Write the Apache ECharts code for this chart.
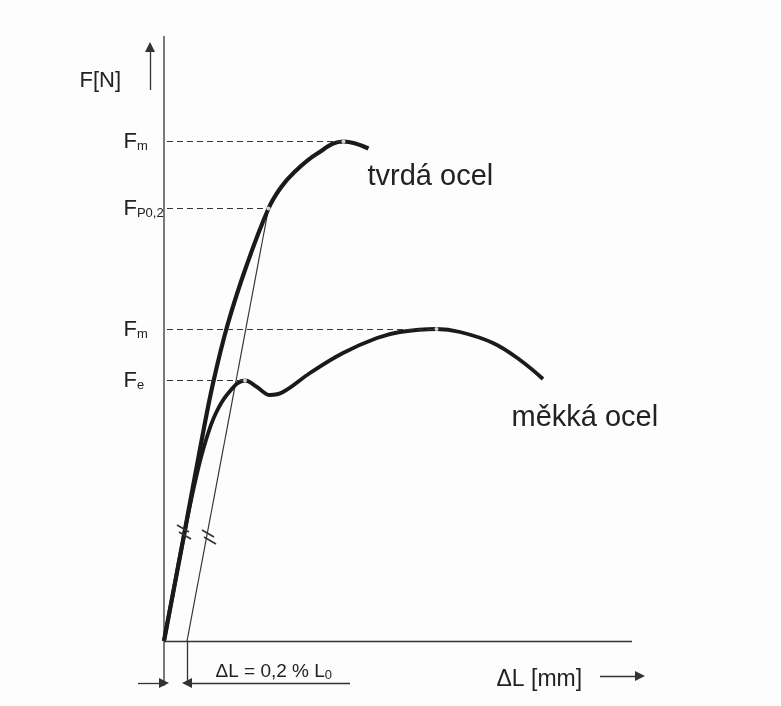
<!DOCTYPE html>
<html>
<head>
<meta charset="utf-8">
<script src="https://cdn.jsdelivr.net/npm/echarts@6/dist/echarts.min.js"></script>
<style>
  html, body { margin: 0; padding: 0; background: #fdfdfd; }
  #chart { width: 781px; height: 706px; }
</style>
</head>
<body>
<div id="chart"></div>
<script>
// tahový diagram, ΔL a F v libovolných jednotkách
const hardSteel = [[0, 0], [3.8, 20.1], [7.54, 40.2], [9.86, 51.8], [12.76, 63.4], [16.48, 75],
  [20.9, 86.5], [23.3, 90.6], [26, 93.7], [30.5, 97.4], [35.9, 99.9], [40.9, 98.5]]
const softSteel = [[0, 0], [4.5, 23.7], [6.6, 33.5], [8.4, 40.2], [10.3, 45.4], [12.8, 49.5],
  [16.2, 52.1], [18.6, 50.8], [21.2, 49.2], [23.8, 49.8], [29.2, 53.6], [35.8, 57.6],
  [42.6, 60.6], [47.2, 61.8], [54.5, 62.4], [59.2, 61.8], [65.8, 59.6], [71.2, 56.2], [75.8, 52.4]]
const offsetLine = [[4.6, 0], [20.9, 86.5]]
// charakteristické body: Fm (tvrdá), Fp0,2, Fm (měkká), Fe
const levelMain = ['F', 'F', 'F', 'F']
const levelSub = ['m', 'P0,2', 'm', 'e']
const levelValues = [99.9, 86.5, 62.4, 52.1]
const levelX = [35.9, 20.9, 54.5, 16.2]
const curveNames = ['tvrdá ocel', 'měkká ocel']
const offsetText = ['ΔL = 0,2 % L', '0']
const axisNames = ['F[N]', 'ΔL [mm]']
const yTop = 121
const xEnd = 93.6
const dimY = -8.4

const chartDom = document.getElementById('chart')
const myChart = echarts.init(chartDom)
const font = 'Liberation Sans, Arial, sans-serif'
const ink = '#1a1a1a'
const thin = '#333333'

const dashed = levelValues.map((v, i) => [{ coord: [0.6, v] }, { coord: [levelX[i], v] }])

const levelLabels = levelValues.map((v, i) => ({
  coord: [0, v],
  label: { formatter: '{b|' + levelMain[i] + '}{s|' + levelSub[i] + '}' }
}))

const option = {
  backgroundColor: '#fdfdfd',
  animation: false,
  grid: { left: 134, right: 137, top: 36, bottom: 20 },
  xAxis: { type: 'value', min: -6, max: 96, show: false },
  yAxis: { type: 'value', min: -9, max: 121, show: false },
  series: [
    {
      // osy
      type: 'line',
      data: [[0, dimY - 0.6], [0, yTop]],
      symbol: 'none',
      silent: true,
      lineStyle: { color: thin, width: 1.3 },
      markLine: {
        silent: true,
        symbol: 'none',
        label: { show: false },
        lineStyle: { color: thin, width: 1.3, type: 'solid' },
        data: [
          [{ coord: [0, 0] }, { coord: [xEnd, 0] }],
          [{ coord: [4.6, 0] }, { coord: [4.6, dimY] }]
        ]
      }
    },
    {
      // šrafy
      type: 'line',
      data: [],
      markLine: {
        silent: true,
        symbol: 'none',
        label: { show: false },
        lineStyle: { color: thin, width: 1.6, type: 'solid' },
        data: [
          [{ coord: [2.6, 23.2] }, { coord: [5.0, 21.8] }],
          [{ coord: [3.0, 21.8] }, { coord: [5.4, 20.4] }],
          [{ coord: [7.6, 22.2] }, { coord: [10.0, 20.8] }],
          [{ coord: [8.0, 20.8] }, { coord: [10.4, 19.4] }]
        ]
      }
    },
    {
      // šipky
      type: 'line',
      data: [],
      markLine: {
        silent: true,
        symbol: ['none', 'triangle'],
        symbolSize: 10,
        label: { show: false },
        itemStyle: { color: thin },
        lineStyle: { color: thin, width: 1.3, type: 'solid' },
        data: [
          [{ coord: [-5.2, dimY] }, { coord: [0, dimY] }],
          [{ coord: [37.2, dimY] }, { coord: [4.6, dimY] }],
          [{ coord: [-2.8, 110.2] }, { coord: [-2.8, 118.8] }],
          [{ coord: [87.2, -7] }, { coord: [95.2, -7] }]
        ]
      }
    },
    {
      name: 'offset',
      type: 'line',
      data: offsetLine,
      symbol: 'none',
      silent: true,
      lineStyle: { color: thin, width: 1.2 },
      markLine: {
        silent: true,
        symbol: 'none',
        label: { show: false },
        lineStyle: { color: thin, width: 1.2, type: [6, 4] },
        data: dashed
      }
    },
    {
      name: curveNames[0],
      type: 'line',
      data: hardSteel,
      smooth: 0.4,
      symbol: 'none',
      silent: true,
      lineStyle: { color: ink, width: 4.2 }
    },
    {
      name: curveNames[1],
      type: 'line',
      data: softSteel,
      smooth: 0.4,
      symbol: 'none',
      silent: true,
      lineStyle: { color: ink, width: 3.8 }
    },
    {
      type: 'scatter',
      data: levelX.map((x, i) => [x, levelValues[i]]),
      symbol: 'circle',
      symbolSize: 4,
      silent: true,
      z: 5,
      itemStyle: { color: '#ffffff' }
    },
    {
      // texty
      type: 'line',
      data: [],
      markPoint: {
        silent: true,
        symbol: 'circle',
        symbolSize: 1,
        itemStyle: { color: 'transparent' },
        label: {
          show: true,
          position: [-40, 0],
          align: 'left',
          verticalAlign: 'middle',
          color: '#222222',
          fontFamily: font,
          rich: {
            b: { fontSize: 22, lineHeight: 24, verticalAlign: 'bottom', fontFamily: font, color: '#222222' },
            s: { fontSize: 13, lineHeight: 10, verticalAlign: 'bottom', fontFamily: font, color: '#222222' },
            t: { fontSize: 19, lineHeight: 22, verticalAlign: 'bottom', fontFamily: font, color: '#222222' },
            u: { fontSize: 13, lineHeight: 9, verticalAlign: 'bottom', fontFamily: font, color: '#222222' }
          }
        },
        data: levelLabels.concat([
          {
            coord: [0, 112],
            label: { position: [-84, 0], formatter: axisNames[0], fontSize: 22 }
          },
          {
            coord: [40.8, 92.8],
            label: { position: [0, 0], formatter: curveNames[0], fontSize: 29 }
          },
          {
            coord: [69.6, 44.6],
            label: { position: [0, 0], formatter: curveNames[1], fontSize: 29 }
          },
          {
            coord: [10.4, -6],
            label: { position: [0, 0], formatter: '{t|' + offsetText[0] + '}{u|' + offsetText[1] + '}' }
          },
          {
            coord: [66.6, -7.8],
            label: { position: [0, 0], formatter: axisNames[1], fontSize: 23 }
          }
        ])
      }
    }
  ]
}

myChart.setOption(option)
window.onresize = () => {
  myChart.resize()
}
</script>
</body>
</html>
